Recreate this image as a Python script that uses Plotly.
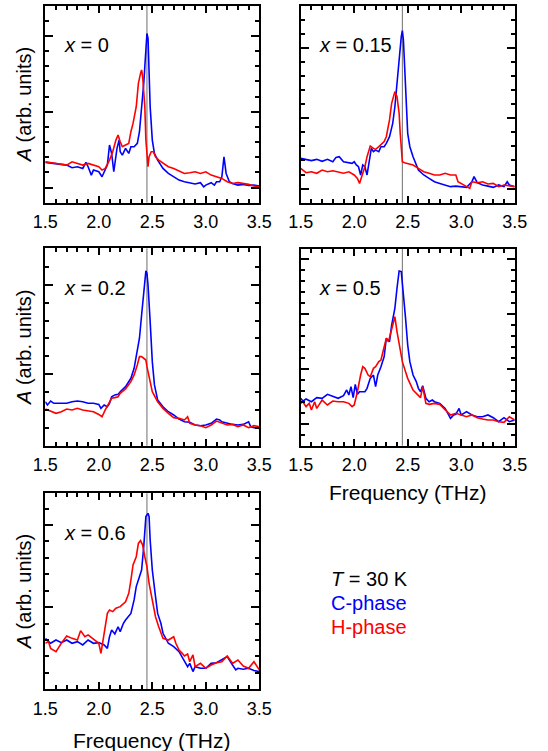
import plotly.graph_objects as go

W, H = 548, 751

# ---------------- data (arb. units) ----------------
# x = 0
f0_c = [1.5,1.6,1.7,1.75,1.8,1.85,1.88,1.9,1.93,1.95,2.0,2.03,2.05,2.08,2.1,2.12,2.14,2.17,2.19,2.2,2.22,2.25,2.28,2.3,2.33,2.36,2.38,2.4,2.42,2.44,2.45,2.46,2.47,2.48,2.5,2.52,2.55,2.6,2.65,2.7,2.75,2.8,2.85,2.9,2.95,2.98,3.0,3.05,3.08,3.1,3.13,3.15,3.17,3.19,3.22,3.25,3.3,3.35,3.4,3.45,3.5]
a0_c = [2.66,2.59,2.48,2.31,2.37,2.26,2.66,2.37,1.82,2.15,2.04,1.71,2.04,2.48,3.80,3.25,2.04,3.58,4.13,3.36,3.14,3.58,3.25,3.69,3.69,3.91,4.68,6.11,7.87,10.07,11.16,10.84,8.97,6.33,4.13,3.25,2.81,2.26,1.93,1.71,1.49,1.38,1.32,1.23,1.32,1.05,1.16,1.32,1.16,1.38,1.38,1.71,3.03,1.93,1.38,1.27,1.16,1.21,1.14,1.16,1.10]
f0_h = [1.5,1.6,1.7,1.75,1.8,1.85,1.9,1.95,2.0,2.03,2.06,2.1,2.13,2.16,2.18,2.2,2.22,2.25,2.28,2.3,2.32,2.35,2.37,2.39,2.4,2.41,2.43,2.44,2.45,2.46,2.47,2.49,2.51,2.53,2.56,2.6,2.65,2.7,2.75,2.8,2.85,2.9,2.95,3.0,3.05,3.1,3.15,3.2,3.25,3.3,3.35,3.4,3.45,3.5]
a0_h = [2.70,2.59,2.48,2.70,2.59,2.48,2.59,2.48,2.37,2.15,2.26,2.81,3.36,4.13,4.46,4.02,3.69,3.80,3.91,4.68,5.23,6.33,7.87,8.53,8.75,8.31,6.33,4.13,2.81,2.37,3.03,3.36,3.36,3.03,2.81,2.59,2.37,2.26,2.11,1.93,1.98,2.04,1.93,2.04,1.82,1.71,1.60,1.38,1.27,1.32,1.27,1.21,1.10,1.05]

# x = 0.15
f15_c = [1.5,1.55,1.6,1.65,1.7,1.75,1.8,1.83,1.86,1.9,1.95,1.98,2.0,2.02,2.04,2.06,2.08,2.1,2.12,2.14,2.16,2.18,2.2,2.23,2.25,2.28,2.3,2.33,2.36,2.38,2.4,2.42,2.44,2.45,2.46,2.47,2.48,2.5,2.52,2.55,2.6,2.65,2.7,2.75,2.8,2.85,2.9,2.95,3.0,3.05,3.1,3.12,3.15,3.2,3.25,3.3,3.35,3.4,3.43,3.45,3.5]
a15_c = [3.15,3.08,2.99,3.08,2.94,3.08,2.91,3.22,3.27,2.91,2.84,2.80,2.91,2.68,2.56,1.97,2.68,2.56,1.97,3.03,3.86,3.63,3.74,3.63,3.98,3.98,4.22,4.69,5.64,6.82,8.25,10.14,11.80,12.23,11.56,9.91,7.77,4.93,3.98,3.27,2.32,1.97,1.73,1.49,1.37,1.26,1.14,1.18,1.14,1.09,1.49,1.85,1.42,1.26,1.18,1.09,1.26,1.14,1.49,1.26,1.14]
f15_h = [1.5,1.55,1.6,1.65,1.7,1.75,1.8,1.85,1.9,1.95,2.0,2.03,2.05,2.08,2.1,2.12,2.15,2.18,2.2,2.23,2.25,2.28,2.3,2.33,2.35,2.37,2.38,2.4,2.42,2.43,2.44,2.45,2.47,2.5,2.55,2.6,2.65,2.7,2.75,2.8,2.85,2.9,2.95,2.97,3.0,3.05,3.08,3.1,3.15,3.2,3.25,3.3,3.35,3.4,3.45,3.5]
a15_h = [2.44,2.13,2.20,2.09,2.32,2.20,2.27,2.20,2.09,2.20,1.97,1.73,1.37,2.09,2.56,3.27,4.03,3.86,3.79,3.98,4.10,4.34,4.69,5.88,7.06,7.77,7.89,7.54,6.35,4.93,3.51,2.91,2.84,2.80,2.68,2.44,2.20,2.09,1.97,1.97,2.09,1.97,1.97,1.49,1.37,1.14,1.02,1.49,1.42,1.49,1.33,1.37,1.14,1.26,1.18,1.14]

# x = 0.2
f2_c = [1.5,1.52,1.55,1.58,1.6,1.7,1.75,1.8,1.85,1.9,1.95,2.0,2.02,2.05,2.08,2.1,2.12,2.15,2.18,2.2,2.25,2.3,2.33,2.36,2.38,2.4,2.42,2.44,2.45,2.46,2.48,2.5,2.52,2.55,2.6,2.65,2.7,2.75,2.8,2.85,2.9,2.95,3.0,3.05,3.1,3.13,3.15,3.2,3.25,3.3,3.35,3.4,3.42,3.45,3.5]
a2_c = [2.46,2.28,2.50,2.37,2.37,2.37,2.46,2.50,2.46,2.37,2.37,2.31,2.09,2.28,2.18,2.37,2.74,2.84,2.87,3.02,3.30,3.77,4.33,5.26,6.01,7.31,8.62,9.78,9.65,8.99,6.94,4.70,3.40,2.56,2.18,1.90,1.72,1.49,1.34,1.31,1.16,1.12,1.16,1.25,1.49,1.44,1.34,1.25,1.19,1.16,1.19,1.34,1.06,1.01,0.97]
f2_h = [1.5,1.55,1.6,1.65,1.7,1.75,1.8,1.85,1.9,1.95,2.0,2.03,2.06,2.1,2.12,2.15,2.18,2.2,2.25,2.3,2.33,2.36,2.38,2.4,2.42,2.44,2.45,2.47,2.5,2.55,2.6,2.65,2.7,2.75,2.8,2.83,2.85,2.9,2.95,3.0,3.05,3.1,3.13,3.15,3.2,3.25,3.3,3.35,3.4,3.45,3.5]
a2_h = [2.05,1.94,1.81,1.90,2.05,2.00,2.09,2.00,1.94,1.90,1.75,1.62,2.00,2.46,2.65,2.69,2.74,2.93,3.17,3.58,3.96,4.51,4.98,4.98,4.89,4.79,4.42,3.77,3.02,2.46,2.09,1.81,1.57,1.53,1.44,1.62,1.25,1.16,1.12,1.01,1.16,1.38,1.31,1.25,1.16,1.19,1.06,1.16,1.01,1.12,1.06]

# x = 0.5
f5_c = [1.5,1.52,1.55,1.6,1.65,1.7,1.75,1.8,1.85,1.9,1.93,1.95,1.97,1.99,2.01,2.03,2.05,2.1,2.12,2.15,2.18,2.2,2.22,2.25,2.28,2.3,2.33,2.35,2.38,2.4,2.42,2.44,2.46,2.48,2.5,2.52,2.55,2.58,2.6,2.62,2.64,2.67,2.7,2.73,2.75,2.8,2.85,2.9,2.93,2.95,2.98,3.0,3.05,3.1,3.15,3.2,3.25,3.3,3.35,3.4,3.45,3.5]
a5_c = [4.32,4.07,4.26,4.01,4.38,4.32,4.68,4.47,4.32,4.56,5.08,4.62,5.38,4.38,5.59,4.68,4.92,4.92,5.23,6.14,6.44,5.38,6.44,7.20,8.12,9.79,9.48,11.00,12.52,14.35,15.93,15.87,14.04,11.61,9.18,7.66,6.44,5.84,5.23,4.92,5.47,4.32,4.01,4.16,4.01,3.86,3.40,2.49,2.80,2.86,3.40,2.80,3.10,2.80,2.64,2.64,2.80,2.55,2.19,2.55,2.19,2.34]
f5_h = [1.5,1.52,1.55,1.58,1.6,1.63,1.65,1.7,1.75,1.8,1.85,1.9,1.95,1.98,2.0,2.03,2.06,2.08,2.1,2.13,2.15,2.18,2.2,2.23,2.25,2.28,2.3,2.32,2.35,2.37,2.38,2.4,2.42,2.45,2.48,2.5,2.55,2.6,2.62,2.64,2.67,2.7,2.75,2.8,2.85,2.9,2.95,3.0,3.05,3.1,3.15,3.2,3.25,3.3,3.35,3.4,3.45,3.5]
a5_h = [3.86,4.01,3.56,3.86,3.25,4.01,3.40,4.16,3.71,4.07,4.01,4.01,3.86,3.56,3.71,4.92,6.44,7.20,7.05,6.44,6.29,7.05,7.20,7.66,7.81,9.18,9.79,9.48,10.70,11.61,11.76,10.40,9.18,7.66,6.75,6.14,5.08,4.62,4.38,5.38,3.86,3.77,3.86,3.77,3.25,2.80,2.95,2.80,2.64,2.80,2.55,2.43,2.34,2.34,2.19,2.13,2.64,2.34]

# x = 0.6
f6_c = [1.5,1.55,1.6,1.65,1.7,1.75,1.8,1.85,1.9,1.95,2.0,2.05,2.08,2.1,2.12,2.15,2.18,2.2,2.23,2.25,2.3,2.33,2.35,2.37,2.4,2.42,2.44,2.46,2.47,2.48,2.5,2.53,2.55,2.58,2.6,2.65,2.7,2.75,2.8,2.83,2.85,2.88,2.9,2.95,3.0,3.05,3.1,3.15,3.2,3.25,3.28,3.3,3.35,3.4,3.45,3.5]
a6_c = [3.10,2.80,3.00,2.84,3.00,2.80,2.90,2.70,3.00,2.80,2.84,2.70,2.49,3.20,3.61,3.37,3.81,3.51,4.02,4.22,4.62,5.44,6.25,6.65,7.26,8.68,10.51,10.71,10.51,9.09,7.26,5.64,4.62,4.02,3.41,2.80,2.60,2.29,1.68,1.38,1.58,1.08,1.38,1.28,1.28,1.58,1.62,1.78,1.99,1.48,1.18,1.28,1.22,1.28,1.14,1.08]
f6_h = [1.5,1.53,1.55,1.6,1.65,1.7,1.75,1.8,1.83,1.87,1.9,1.95,2.0,2.02,2.04,2.06,2.08,2.1,2.13,2.16,2.2,2.25,2.28,2.3,2.32,2.35,2.37,2.39,2.41,2.43,2.45,2.47,2.5,2.53,2.56,2.6,2.65,2.7,2.72,2.75,2.78,2.8,2.83,2.85,2.88,2.9,2.95,3.0,3.05,3.1,3.15,3.2,3.25,3.3,3.35,3.4,3.45,3.5]
a6_h = [2.80,2.90,2.49,2.29,2.80,3.25,3.10,3.00,3.57,3.20,3.31,3.04,2.80,2.19,3.00,3.61,4.62,4.83,4.73,4.93,5.03,5.33,5.84,6.65,7.57,8.07,8.88,9.05,8.78,8.07,7.46,6.45,5.44,4.42,3.81,3.10,3.00,3.20,2.80,2.39,2.19,2.03,2.15,1.68,2.09,1.38,1.58,1.28,1.48,1.62,1.68,2.03,1.58,1.78,1.42,1.28,1.68,1.18]

panel_labels = ["0", "0.15", "0.2", "0.5", "0.6"]
REF_FREQ = 2.45
X_TICKS = [1.5, 2.0, 2.5, 3.0, 3.5]
y_tops = [12.97, 13.98, 11.04, 17.93, 11.93]
y_major = [[1, 6, 11], [1, 6, 11], [4, 9], [2, 7, 12, 17], [5, 10]]

series = [(f0_c, a0_c, f0_h, a0_h), (f15_c, a15_c, f15_h, a15_h),
          (f2_c, a2_c, f2_h, a2_h), (f5_c, a5_c, f5_h, a5_h),
          (f6_c, a6_c, f6_h, a6_h)]

# ---------------- layout geometry (pixels) ----------------
boxes = [  # left, right, top, bottom
    (45.3, 259.3, 6.0, 202.7),
    (300.7, 514.7, 6.0, 202.7),
    (45.3, 259.3, 248.3, 445.7),
    (300.7, 514.7, 249.0, 445.7),
    (45.3, 259.3, 493.3, 689.3),
]

FONT = "Liberation Sans, Arial, sans-serif"
BLUE = "#0000ff"
RED = "#ff0000"

fig = go.Figure()
layout = dict(width=W, height=H, margin=dict(l=0, r=0, t=0, b=0, pad=0, autoexpand=False),
              paper_bgcolor="white", plot_bgcolor="white", showlegend=False,
              font=dict(family=FONT, size=18, color="black"))
annotations = []
shapes = []

for i, (box, (fc, ac, fh, ah)) in enumerate(zip(boxes, series)):
    n = i + 1
    xa = "x" if n == 1 else f"x{n}"
    ya = "y" if n == 1 else f"y{n}"
    l, r, t, b = box
    layout[f"xaxis{'' if n == 1 else n}"] = dict(
        domain=[l / W, r / W], anchor=ya, range=[1.5, 3.5],
        tickmode="array", tickvals=X_TICKS, tickformat=".1f",
        ticks="inside", ticklen=7, tickwidth=1.5, tickcolor="black",
        minor=dict(dtick=0.1, tick0=1.5, ticks="inside", ticklen=4, tickwidth=1.5, tickcolor="black"),
        showline=True, linewidth=2, linecolor="black", mirror="ticks",
        showgrid=False, zeroline=False, ticklabelstandoff=2, automargin=False,
        tickfont=dict(size=18, family=FONT, color="black"),
    )
    top = y_tops[i]
    layout[f"yaxis{'' if n == 1 else n}"] = dict(
        domain=[1 - b / H, 1 - t / H], anchor=xa, range=[0, top],
        tickmode="array", tickvals=y_major[i], showticklabels=False,
        ticks="inside", ticklen=8, tickwidth=1.5, tickcolor="black",
        minor=dict(tickmode="array", tickvals=list(range(1, int(top) + 1)),
                   ticks="inside", ticklen=4, tickwidth=1.5, tickcolor="black"),
        showline=True, linewidth=2, linecolor="black", mirror="ticks",
        showgrid=False, zeroline=False, automargin=False,
    )
    shapes.append(dict(type="line", xref=xa, yref=f"{ya} domain", x0=REF_FREQ, x1=REF_FREQ,
                       y0=0, y1=1, line=dict(color="#6e6e6e", width=1), layer="below"))
    fig.add_trace(go.Scatter(x=fc, y=ac, mode="lines", line=dict(color=BLUE, width=1.6),
                             xaxis=xa, yaxis=ya, cliponaxis=True))
    fig.add_trace(go.Scatter(x=fh, y=ah, mode="lines", line=dict(color=RED, width=1.6),
                             xaxis=xa, yaxis=ya, cliponaxis=True))
    annotations.append(dict(text=f"<i>x</i> = {panel_labels[i]}", xref=f"{xa} domain", yref=f"{ya} domain",
                            x=0.077, y=0.80, xanchor="left", yanchor="middle", showarrow=False,
                            font=dict(size=20, family=FONT, color="black")))
    if n in (1, 3, 5):
        annotations.append(dict(text="<i>A</i> (arb. units)", xref="paper", yref="paper",
                                x=24 / W, y=1 - ((t + b) / 2) / H, xanchor="center", yanchor="middle",
                                textangle=-90, showarrow=False,
                                font=dict(size=20, family=FONT, color="black")))
    if n in (4, 5):
        ypix = 492 if n == 4 else 740
        annotations.append(dict(text="Frequency (THz)", xref="paper", yref="paper",
                                x=((l + r) / 2) / W, y=1 - ypix / H, xanchor="center", yanchor="middle",
                                showarrow=False, font=dict(size=21, family=FONT, color="black")))

legend_lines = [("<i>T</i> = 30 K", "black", 579), ("C-phase", BLUE, 603), ("H-phase", RED, 627)]
for txt, col, ypix in legend_lines:
    annotations.append(dict(text=txt, xref="paper", yref="paper", x=329 / W, y=1 - ypix / H,
                            xanchor="left", yanchor="middle", showarrow=False,
                            font=dict(size=20, family=FONT, color=col)))

layout["annotations"] = annotations
layout["shapes"] = shapes
fig.update_layout(**layout)
fig.write_html("out.html", config={"displayModeBar": False},
               post_script="document.body.style.margin='0';document.body.style.overflow='hidden';")
